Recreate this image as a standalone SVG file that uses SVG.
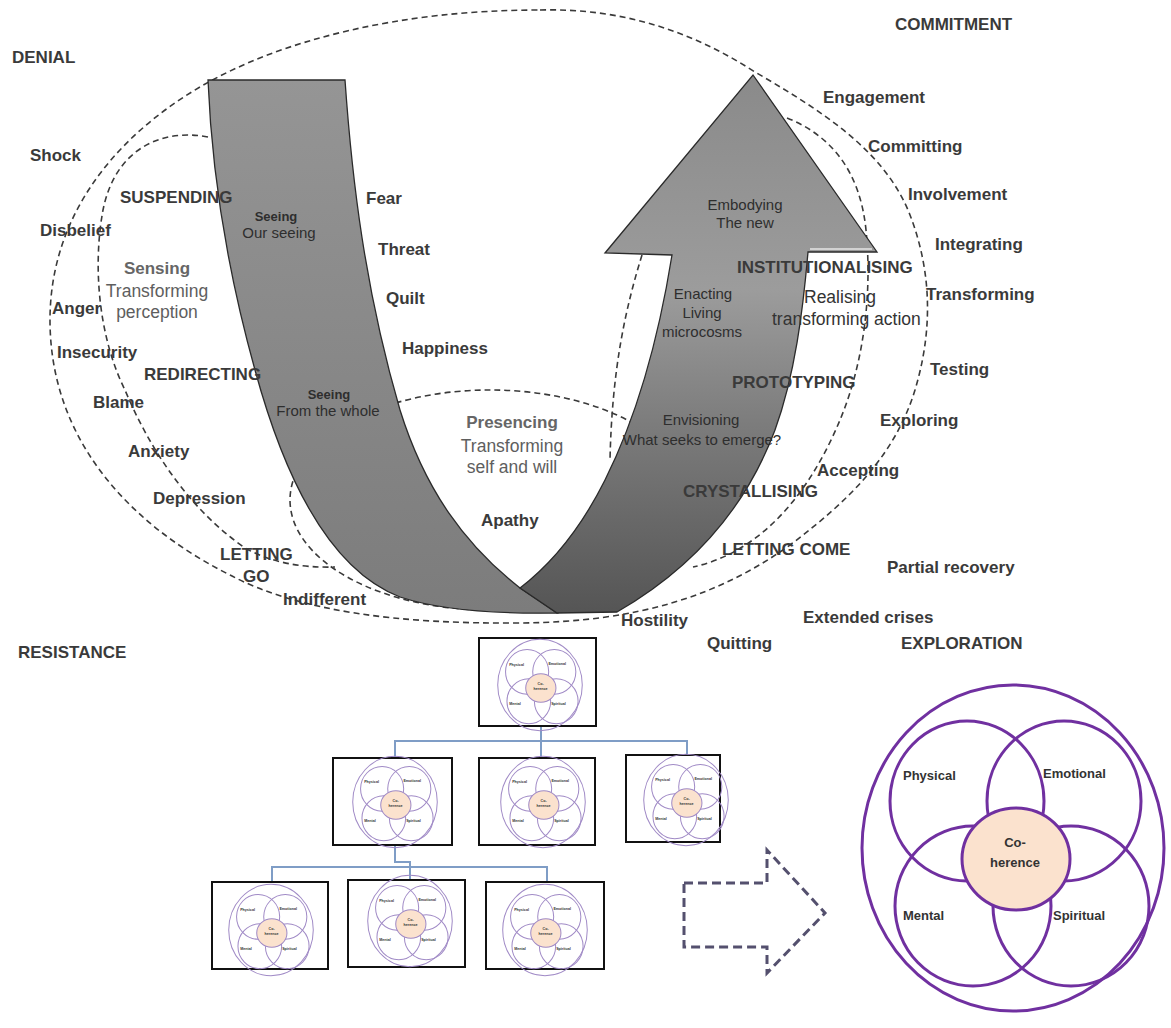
<svg xmlns="http://www.w3.org/2000/svg" xmlns:xlink="http://www.w3.org/1999/xlink" width="1171" height="1028" viewBox="0 0 1171 1028">
<style>
  .dash { fill: none; stroke: #3a3a3a; stroke-width: 1.6; stroke-dasharray: 6 4; }
  .lbl { font-family: "Liberation Sans", Arial, sans-serif; font-weight: bold; font-size: 17px; fill: #3a3a3a; }
  .soft { font-family: "Liberation Sans", Arial, sans-serif; font-size: 17.5px; fill: #5e5e5e; }
  .dark { fill: #333; }
  .softb { font-family: "Liberation Sans", Arial, sans-serif; font-weight: bold; font-size: 17px; fill: #666; }
  .band { font-family: "Liberation Sans", Arial, sans-serif; font-size: 15px; fill: #2e2e2e; text-anchor: middle; }
  .bandb { font-family: "Liberation Sans", Arial, sans-serif; font-weight: bold; font-size: 13px; fill: #2e2e2e; text-anchor: middle; }
  .box { fill: #fff; stroke: #111; stroke-width: 2; }
  .conn { fill: none; stroke: #7f9dc6; stroke-width: 2; }
  .fl { font-family: "Liberation Sans", Arial, sans-serif; font-weight: bold; font-size: 13px; fill: #333; stroke: none; }
</style>
<defs>
  <linearGradient id="gLeft" gradientUnits="userSpaceOnUse" x1="0" y1="80" x2="0" y2="613">
    <stop offset="0" stop-color="#959595"/>
    <stop offset="0.6" stop-color="#868686"/>
    <stop offset="1" stop-color="#7c7c7c"/>
  </linearGradient>
  <linearGradient id="gRight" gradientUnits="userSpaceOnUse" x1="0" y1="75" x2="0" y2="613">
    <stop offset="0" stop-color="#8a8a8a"/>
    <stop offset="0.4" stop-color="#9c9c9c"/>
    <stop offset="0.65" stop-color="#7c7c7c"/>
    <stop offset="1" stop-color="#555"/>
  </linearGradient>
  <g id="flower">
    <ellipse cx="0" cy="0" rx="151" ry="163"/>
    <ellipse cx="-46" cy="-47" rx="77" ry="80"/>
    <ellipse cx="51" cy="-47" rx="77" ry="80"/>
    <ellipse cx="-40" cy="58" rx="78" ry="80"/>
    <ellipse cx="58" cy="58" rx="78" ry="80"/>
    <ellipse cx="3" cy="11" rx="54" ry="51" fill="#fbe2ce"/>
    <text class="fl" x="-110" y="-68">Physical</text>
    <text class="fl" x="30" y="-70">Emotional</text>
    <text class="fl" x="2" y="-1" text-anchor="middle">Co-</text>
    <text class="fl" x="2" y="19" text-anchor="middle">herence</text>
    <text class="fl" x="-110" y="72">Mental</text>
    <text class="fl" x="40" y="72">Spiritual</text>
  </g>
</defs>

<rect width="1171" height="1028" fill="#fff"/>

<!-- dashed zones -->
<g id="zones">
  <path class="dash" d="M540,10 C620,8 690,30 755,72 C820,110 885,150 910,215 C935,280 930,340 915,390 C895,455 850,500 790,545 C720,595 640,622 520,623 C400,624 300,612 230,575 C130,525 50,440 50,320 C50,220 110,140 200,87 C280,40 400,10 540,10 Z"/>
  <path class="dash" d="M208,137 C160,128 115,150 103,210 C92,270 100,340 125,390 C150,450 190,510 245,548 C270,562 300,568 335,567"/>
  <ellipse class="dash" cx="490" cy="500" rx="200" ry="110"/>
  <path class="dash" d="M642,255 C625,310 612,370 610,460"/>
  <path class="dash" d="M787,118 C830,135 860,170 866,230 C872,290 865,360 840,420 C815,480 770,550 693,567"/>
</g>

<!-- U curve -->
<g id="u-curve">
  <path d="M208,80 L345,80 C352,180 365,290 400,410 C425,490 465,545 520,588 L557,613 C500,614 440,610 400,597 C330,570 285,480 255,370 C230,280 212,180 208,80 Z" fill="url(#gLeft)" stroke="#2a2a2a" stroke-width="1.3"/>
  <path d="M520,588 L557,613 L617,612 C690,570 745,510 775,430 C795,375 803,310 808,252 L877,252 L753,75 L605,253 L672,255 C660,330 640,410 605,480 C580,530 550,565 520,588 Z" fill="url(#gRight)" stroke="#2a2a2a" stroke-width="1.3"/>
  <line x1="810" y1="249" x2="872" y2="249" stroke="#e6e6e6" stroke-width="1.5"/>
</g>

<!-- band labels -->
<g id="band-labels">
  <text class="bandb" x="276" y="221">Seeing</text>
  <text class="band" x="279" y="238" font-size="13">Our seeing</text>
  <text class="bandb" x="329" y="399">Seeing</text>
  <text class="band" x="328" y="416" font-size="14">From the whole</text>
  <text class="band" x="745" y="210">Embodying</text>
  <text class="band" x="745" y="228">The new</text>
  <text class="band" x="703" y="299">Enacting</text>
  <text class="band" x="702" y="318">Living</text>
  <text class="band" x="702" y="337">microcosms</text>
  <text class="band" x="701" y="425" font-size="16">Envisioning</text>
  <text class="band" x="702" y="445">What seeks to emerge?</text>
</g>

<!-- left labels -->
<g id="labels-left">
  <text class="lbl" x="12" y="63">DENIAL</text>
  <text class="lbl" x="30" y="161">Shock</text>
  <text class="lbl" x="120" y="203">SUSPENDING</text>
  <text class="lbl" x="40" y="236">Disbelief</text>
  <text class="softb" x="157" y="274" text-anchor="middle">Sensing</text>
  <text class="soft" x="157" y="297" text-anchor="middle">Transforming</text>
  <text class="soft" x="157" y="318" text-anchor="middle">perception</text>
  <text class="lbl" x="52" y="314">Anger</text>
  <text class="lbl" x="57" y="358">Insecurity</text>
  <text class="lbl" x="144" y="380">REDIRECTING</text>
  <text class="lbl" x="93" y="408">Blame</text>
  <text class="lbl" x="128" y="457">Anxiety</text>
  <text class="lbl" x="153" y="504">Depression</text>
  <text class="lbl" x="220" y="560">LETTING</text>
  <text class="lbl" x="243" y="582">GO</text>
  <text class="lbl" x="283" y="605">Indifferent</text>
  <text class="lbl" x="18" y="658">RESISTANCE</text>
</g>

<!-- middle labels -->
<g id="labels-middle">
  <text class="lbl" x="366" y="204">Fear</text>
  <text class="lbl" x="378" y="255">Threat</text>
  <text class="lbl" x="386" y="304">Quilt</text>
  <text class="lbl" x="402" y="354">Happiness</text>
  <text class="softb" x="512" y="428" text-anchor="middle">Presencing</text>
  <text class="soft" x="512" y="452" text-anchor="middle">Transforming</text>
  <text class="soft" x="512" y="473" text-anchor="middle">self and will</text>
  <text class="lbl" x="481" y="526">Apathy</text>
  <text class="lbl" x="621" y="626">Hostility</text>
  <text class="lbl" x="707" y="649">Quitting</text>
</g>

<!-- right labels -->
<g id="labels-right">
  <text class="lbl" x="895" y="30">COMMITMENT</text>
  <text class="lbl" x="823" y="103">Engagement</text>
  <text class="lbl" x="868" y="152">Committing</text>
  <text class="lbl" x="908" y="200">Involvement</text>
  <text class="lbl" x="935" y="250">Integrating</text>
  <text class="lbl" x="737" y="273">INSTITUTIONALISING</text>
  <text class="soft dark" x="804" y="303">Realising</text>
  <text class="soft dark" x="772" y="325">transforming action</text>
  <text class="lbl" x="926" y="300">Transforming</text>
  <text class="lbl" x="930" y="375">Testing</text>
  <text class="lbl" x="732" y="388">PROTOTYPING</text>
  <text class="lbl" x="880" y="426">Exploring</text>
  <text class="lbl" x="817" y="476">Accepting</text>
  <text class="lbl" x="683" y="497">CRYSTALLISING</text>
  <text class="lbl" x="722" y="555">LETTING COME</text>
  <text class="lbl" x="887" y="573">Partial recovery</text>
  <text class="lbl" x="803" y="623">Extended crises</text>
  <text class="lbl" x="901" y="649">EXPLORATION</text>
</g>

<!-- hierarchy connectors -->
<g id="connectors">
  <path class="conn" d="M541,726 V741 M395,757 V741 H687 V755 M541,741 V758"/>
  <path class="conn" d="M395,845 V862 H410 V880 M272,882 V867 H547 V882"/>
</g>

<!-- hierarchy nodes -->
<g id="node-top">
  <rect class="box" x="479" y="638" width="117" height="88"/>
  <use xlink:href="#flower" href="#flower" transform="translate(540,685) scale(0.28)" fill="none" stroke="#a08ac6" stroke-width="3.6"/>
</g>
<g id="node-m1">
  <rect class="box" x="333" y="758" width="119" height="87"/>
  <use xlink:href="#flower" href="#flower" transform="translate(395,802) scale(0.28)" fill="none" stroke="#a08ac6" stroke-width="3.6"/>
</g>
<g id="node-m2">
  <rect class="box" x="479" y="758" width="116" height="87"/>
  <use xlink:href="#flower" href="#flower" transform="translate(543,802) scale(0.28)" fill="none" stroke="#a08ac6" stroke-width="3.6"/>
</g>
<g id="node-m3">
  <rect class="box" x="626" y="755" width="94" height="87"/>
  <use xlink:href="#flower" href="#flower" transform="translate(686,800) scale(0.28)" fill="none" stroke="#a08ac6" stroke-width="3.6"/>
</g>
<g id="node-b1">
  <rect class="box" x="212" y="882" width="116" height="87"/>
  <use xlink:href="#flower" href="#flower" transform="translate(271,930) scale(0.28)" fill="none" stroke="#a08ac6" stroke-width="3.6"/>
</g>
<g id="node-b2">
  <rect class="box" x="348" y="880" width="117" height="87"/>
  <use xlink:href="#flower" href="#flower" transform="translate(410,921) scale(0.28)" fill="none" stroke="#a08ac6" stroke-width="3.6"/>
</g>
<g id="node-b3">
  <rect class="box" x="486" y="882" width="118" height="87"/>
  <use xlink:href="#flower" href="#flower" transform="translate(545,930) scale(0.28)" fill="none" stroke="#a08ac6" stroke-width="3.6"/>
</g>

<!-- dashed arrow -->
<g id="dashed-arrow">
  <path d="M684,883 H767 V850 L825,913 L767,973 V947 H684 Z" fill="none" stroke="#54506e" stroke-width="3" stroke-dasharray="9 5"/>
</g>

<!-- big flower -->
<g id="big-flower">
  <use xlink:href="#flower" href="#flower" transform="translate(1013,848)" fill="none" stroke="#7030a0" stroke-width="3"/>
</g>
</svg>
